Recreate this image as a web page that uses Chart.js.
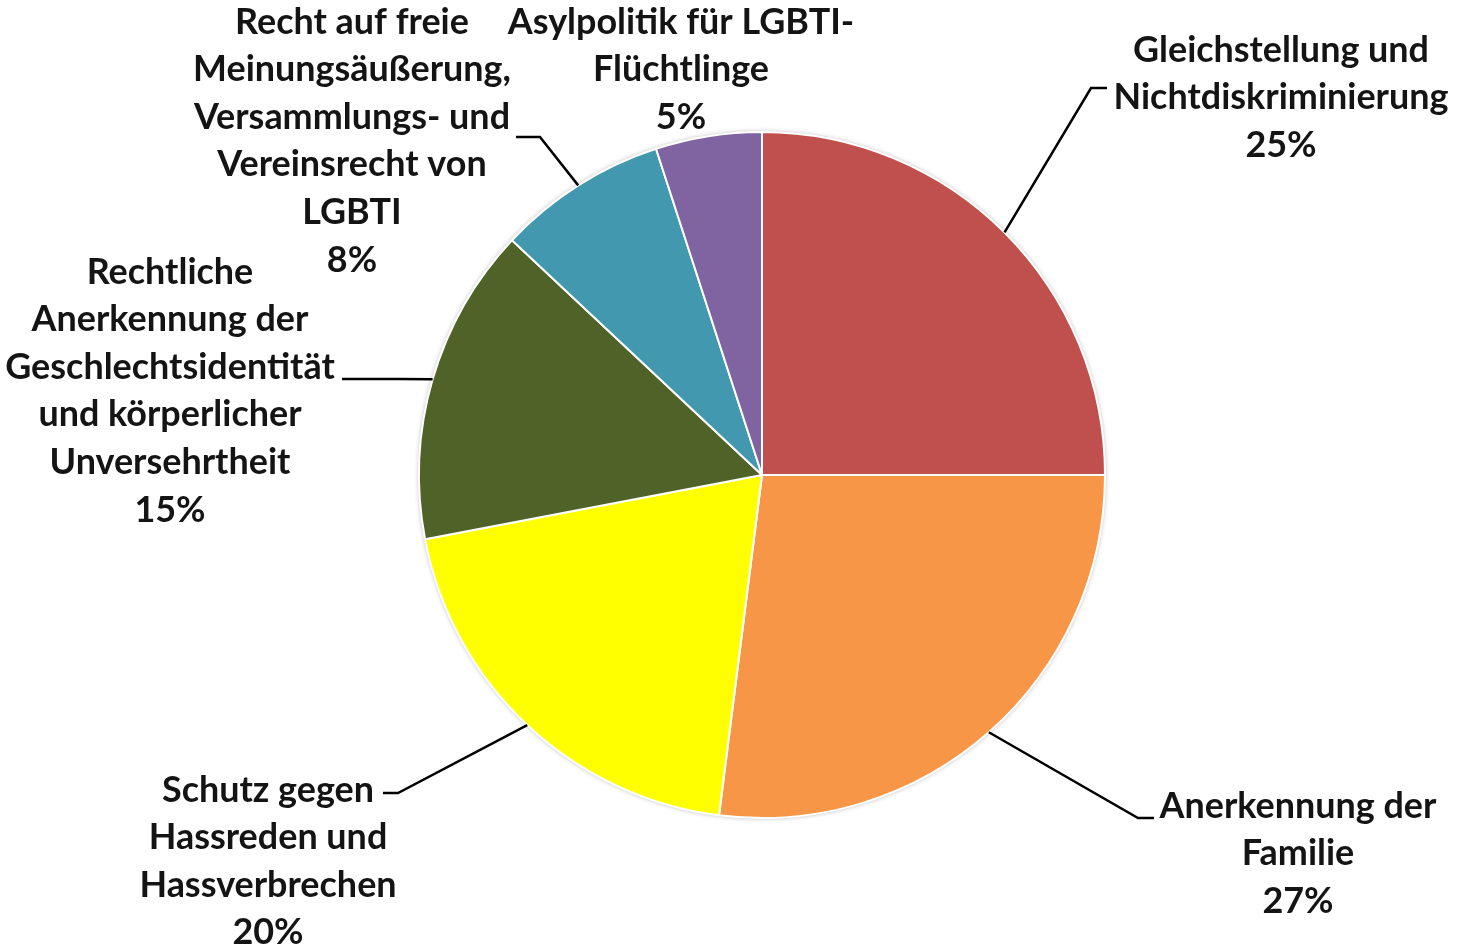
<!DOCTYPE html>
<html>
<head>
<meta charset="utf-8">
<script src="https://cdn.jsdelivr.net/npm/chart.js@4.4.1/dist/chart.umd.min.js"></script>
<style>
  html, body { margin: 0; padding: 0; background: #ffffff; }
  #wrap { width: 1460px; height: 951px; position: relative; }
</style>
</head>
<body>
<div id="wrap"><canvas id="c" width="1460" height="951"></canvas></div>
<script>
// ---- Data ----
const categories = [
  ["Gleichstellung und", "Nichtdiskriminierung"],
  ["Anerkennung der", "Familie"],
  ["Schutz gegen", "Hassreden und", "Hassverbrechen"],
  ["Rechtliche", "Anerkennung der", "Geschlechtsidentität", "und körperlicher", "Unversehrtheit"],
  ["Recht auf freie", "Meinungsäußerung,", "Versammlungs- und", "Vereinsrecht von", "LGBTI"],
  ["Asylpolitik für LGBTI-", "Flüchtlinge"]
];
const shares = [25, 27, 20, 15, 8, 5];
const percentLabels = ["25%", "27%", "20%", "15%", "8%", "5%"];
const sliceColors = ["#C0504D", "#F79646", "#FFFF00", "#4F6228", "#4198AF", "#8064A2"];

// ---- Label layout (text block centre x, first line y, leader elbow) ----
const labelLayout = [
  { x: 1281, y: 50,  elbow: [1091, 88],  end: [1107, 88] },
  { x: 1298, y: 806, elbow: [1138, 818], end: [1154, 818] },
  { x: 268,  y: 790, elbow: [398, 793],  end: [383, 793] },
  { x: 170,  y: 272, elbow: [400, 379],  end: [342, 379] },
  { x: 352,  y: 22,  elbow: [540, 137],  end: [516, 137] },
  { x: 681,  y: 22,  elbow: null,        end: null }
];
const lineHeight = 47.6;

const shadowPlugin = {
  id: 'pieShadow',
  beforeDatasetsDraw(chart) {
    const arc = chart.getDatasetMeta(0).data[0];
    if (!arc) return;
    const ctx = chart.ctx;
    ctx.save();
    ctx.beginPath();
    ctx.arc(arc.x, arc.y, arc.outerRadius, 0, Math.PI * 2);
    ctx.shadowColor = 'rgba(0,0,0,0.35)';
    ctx.shadowBlur = 5;
    ctx.fillStyle = '#ffffff';
    ctx.fill();
    ctx.restore();
  }
};

const labelPlugin = {
  id: 'pieLabels',
  afterDatasetsDraw(chart) {
    const ctx = chart.ctx;
    const meta = chart.getDatasetMeta(0);
    ctx.save();
    let size = 30;
    ctx.font = `bold ${size}px Lato, "Open Sans", sans-serif`;
    const w = ctx.measureText("Nichtdiskriminierung").width;
    size = size * 335 / w;
    ctx.font = `bold ${size}px Lato, "Open Sans", sans-serif`;
    ctx.fillStyle = '#141414';
    ctx.textAlign = 'center';
    ctx.textBaseline = 'middle';
    meta.data.forEach((arc, i) => {
      const lay = labelLayout[i];
      const lines = categories[i].concat([percentLabels[i]]);
      lines.forEach((t, k) => ctx.fillText(t, lay.x, lay.y + k * lineHeight));
      if (lay.elbow) {
        const mid = (arc.startAngle + arc.endAngle) / 2;
        const sx = arc.x + Math.cos(mid) * arc.outerRadius;
        const sy = arc.y + Math.sin(mid) * arc.outerRadius;
        ctx.beginPath();
        ctx.moveTo(sx, sy);
        ctx.lineTo(lay.elbow[0], lay.elbow[1]);
        ctx.lineTo(lay.end[0], lay.end[1]);
        ctx.strokeStyle = '#000000';
        ctx.lineWidth = 2.5;
        ctx.stroke();
      }
    });
    ctx.restore();
  }
};

new Chart(document.getElementById('c'), {
  type: 'pie',
  data: {
    labels: categories.map(c => c.join(' ')),
    datasets: [{
      data: shares,
      backgroundColor: sliceColors,
      borderColor: '#ffffff',
      borderWidth: 2
    }]
  },
  options: {
    responsive: false,
    animation: false,
    radius: 343,
    layout: { padding: { left: 420, right: 356, top: 133, bottom: 134 } },
    plugins: { legend: { display: false }, tooltip: { enabled: false } }
  },
  plugins: [shadowPlugin, labelPlugin]
});
</script>
</body>
</html>
